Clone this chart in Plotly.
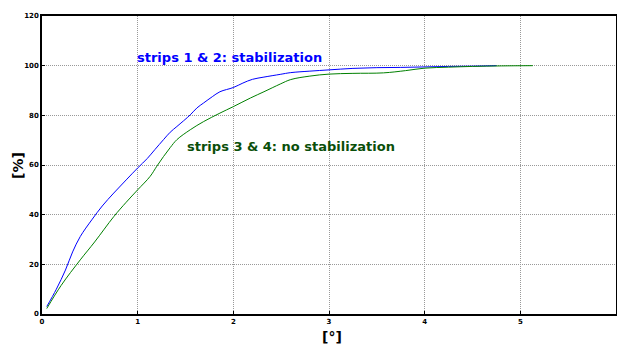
import plotly.graph_objects as go

# Data
blue_x = [0.05, 0.15, 0.245, 0.32, 0.40, 0.52, 0.63, 0.75, 0.88, 1.0, 1.10, 1.18, 1.27, 1.34, 1.41, 1.55, 1.62, 1.69, 1.78, 1.86, 2.0, 2.1, 2.2, 2.32, 2.49, 2.6, 2.8, 3.0, 3.25, 3.5, 3.75, 4.0, 4.25, 4.5, 4.75]
blue_y = [3, 10, 17.7, 25, 31.2, 37.9, 43.5, 48.7, 54, 58.8, 62.6, 66.2, 70.2, 73.2, 75.5, 80.2, 83, 85, 87.5, 89.5, 91.2, 93, 94.5, 95.4, 96.5, 97.2, 97.8, 98.3, 98.9, 99.2, 99.3, 99.5, 99.7, 99.8, 100]
green_x = [0.05, 0.2, 0.40, 0.55, 0.75, 0.88, 1.0, 1.13, 1.20, 1.27, 1.34, 1.41, 1.55, 1.69, 1.86, 2.0, 2.18, 2.32, 2.49, 2.6, 2.8, 3.0, 3.25, 3.57, 3.8, 4.0, 4.25, 4.5, 4.8, 5.13]
green_y = [2.2, 11.5, 21.8, 29, 39.2, 45, 50, 55.4, 59.5, 63.4, 67, 70.2, 74.2, 77.5, 80.9, 83.5, 87, 89.5, 92.6, 94.4, 95.8, 96.6, 96.9, 97.1, 98, 99, 99.4, 99.7, 99.9, 100]

x_ticks = [0, 1, 2, 3, 4, 5, 6]
y_ticks = [0, 20, 40, 60, 80, 100, 120]

fig = go.Figure()
fig.add_trace(go.Scatter(x=blue_x, y=blue_y, mode="lines", line=dict(color="#0000ff", width=1), line_shape="spline"))
fig.add_trace(go.Scatter(x=green_x, y=green_y, mode="lines", line=dict(color="#008000", width=1), line_shape="spline"))

fig.add_annotation(x=0.97, y=103.2, text="<b>strips 1 & 2: stabilization</b>", showarrow=False,
                   xanchor="left", yanchor="middle", font=dict(family="DejaVu Sans", size=13, color="#0000ff"))
fig.add_annotation(x=1.49, y=67.3, text="<b>strips 3 & 4: no stabilization</b>", showarrow=False,
                   xanchor="left", yanchor="middle", font=dict(family="DejaVu Sans", size=13, color="#0a4f0a"))

# axis titles
fig.add_annotation(xref="paper", yref="paper", x=-0.042, y=0.5, text="<b>[%]</b>", showarrow=False,
                   textangle=-90, xanchor="center", yanchor="middle",
                   font=dict(family="DejaVu Sans", size=14, color="black"))
fig.add_annotation(xref="paper", yref="paper", x=0.505, y=-0.077, text="<b>[°]</b>", showarrow=False,
                   xanchor="center", yanchor="middle",
                   font=dict(family="DejaVu Sans", size=14, color="black"))

axis_common = dict(showgrid=True, gridcolor="#999999", griddash="1px,1px", gridwidth=1,
                   showline=True, linecolor="black", linewidth=1.5, mirror=True,
                   ticks="inside", ticklen=3, tickcolor="black", zeroline=False, automargin=False,
                   tickfont=dict(family="DejaVu Sans", size=7, color="black"))

fig.update_xaxes(range=[0, 6], tickvals=x_ticks, ticktext=[f"<b>{v}</b>" for v in x_ticks], **axis_common)
fig.update_yaxes(range=[0, 120], tickvals=y_ticks, ticktext=[f"<b>{v}</b>" for v in y_ticks], **axis_common)

fig.update_layout(width=617, height=346, showlegend=False,
                  margin=dict(l=42, r=1, t=16, b=32),
                  plot_bgcolor="white", paper_bgcolor="white")

fig.write_html("out.html", config={"displayModeBar": False},
               post_script="document.body.style.margin='0';document.body.style.overflow='hidden';")
